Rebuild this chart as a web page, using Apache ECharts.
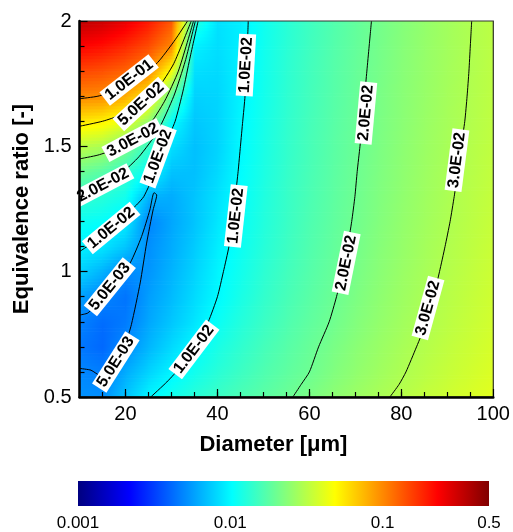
<!DOCTYPE html>
<html>
<head>
<meta charset="utf-8">
<script src="https://cdn.jsdelivr.net/npm/echarts@6/dist/echarts.min.js"></script>
<style>
html, body { margin: 0; padding: 0; background: #fff; }
#main { width: 513px; height: 532px; }
</style>
</head>
<body>
<div id="main"></div>
<script>
// grid nodes of the field (diameter in um, equivalence ratio)
var diameters = [10, 15, 20, 25, 30, 35, 40, 45, 50, 55, 60, 65, 70, 75, 80, 85, 90, 95, 100];
var ratios = [0.5, 0.6, 0.7, 0.8, 0.9, 1.0, 1.1, 1.2, 1.3, 1.4, 1.5, 1.6, 1.7, 1.8, 1.9, 2.0];
// values, one row per ratio (0.5 first)
var valueGrid = [
    [0.0053, 0.0052, 0.0072, 0.0098, 0.0115, 0.0131, 0.0147, 0.0163, 0.0179, 0.0196, 0.0217, 0.0241, 0.0265, 0.0288, 0.0312, 0.0336, 0.036, 0.0384, 0.041],
    [0.005, 0.0047, 0.0062, 0.0079, 0.0097, 0.0114, 0.0131, 0.0148, 0.0166, 0.0183, 0.02, 0.0224, 0.0248, 0.0271, 0.0295, 0.0319, 0.0343, 0.0367, 0.0393],
    [0.0045, 0.0041, 0.0051, 0.0066, 0.0082, 0.01, 0.0119, 0.0137, 0.0156, 0.0174, 0.0193, 0.0214, 0.0238, 0.0261, 0.0285, 0.0308, 0.0332, 0.0355, 0.0381],
    [0.0048, 0.0042, 0.0046, 0.006, 0.0073, 0.0088, 0.0108, 0.0127, 0.0146, 0.0165, 0.0184, 0.0203, 0.0227, 0.0251, 0.0274, 0.0298, 0.0321, 0.0345, 0.0371],
    [0.0058, 0.0049, 0.0044, 0.0057, 0.0068, 0.0083, 0.01, 0.0119, 0.0139, 0.0158, 0.0177, 0.0197, 0.0219, 0.0243, 0.0267, 0.0291, 0.0314, 0.0338, 0.0364],
    [0.0078, 0.0064, 0.005, 0.0054, 0.0065, 0.0079, 0.0097, 0.0114, 0.0134, 0.0153, 0.0172, 0.0192, 0.0213, 0.0237, 0.0261, 0.0284, 0.0308, 0.0332, 0.0358],
    [0.0095, 0.0088, 0.0072, 0.0052, 0.0062, 0.0075, 0.0093, 0.011, 0.0129, 0.0148, 0.0168, 0.0187, 0.0208, 0.0232, 0.0255, 0.0279, 0.0302, 0.0326, 0.0352],
    [0.011, 0.0105, 0.0092, 0.0049, 0.006, 0.0072, 0.0089, 0.0107, 0.0126, 0.0145, 0.0165, 0.0184, 0.0204, 0.0227, 0.0251, 0.0274, 0.0297, 0.0321, 0.0346],
    [0.014, 0.013, 0.0115, 0.0065, 0.0062, 0.0072, 0.0086, 0.0104, 0.0124, 0.0143, 0.0162, 0.0181, 0.0201, 0.0224, 0.0247, 0.027, 0.0293, 0.0316, 0.0341],
    [0.02, 0.0175, 0.014, 0.0105, 0.0071, 0.007, 0.0082, 0.0102, 0.0121, 0.0141, 0.016, 0.0179, 0.0199, 0.0221, 0.0244, 0.0267, 0.029, 0.0312, 0.0337],
    [0.032, 0.029, 0.022, 0.014, 0.0085, 0.007, 0.0079, 0.01, 0.0119, 0.0139, 0.0158, 0.0177, 0.0196, 0.0218, 0.0241, 0.0264, 0.0286, 0.0309, 0.0333],
    [0.056, 0.052, 0.042, 0.025, 0.0105, 0.0073, 0.0079, 0.0098, 0.0117, 0.0137, 0.0156, 0.0175, 0.0194, 0.0216, 0.0238, 0.0261, 0.0283, 0.0305, 0.033],
    [0.1, 0.097, 0.08, 0.055, 0.018, 0.0078, 0.008, 0.0096, 0.0115, 0.0135, 0.0154, 0.0173, 0.0192, 0.0214, 0.0236, 0.0258, 0.0281, 0.0303, 0.0327],
    [0.15, 0.14, 0.125, 0.1, 0.045, 0.0085, 0.0082, 0.0095, 0.0114, 0.0134, 0.0153, 0.0172, 0.0191, 0.0211, 0.0234, 0.0256, 0.0279, 0.0301, 0.0325],
    [0.23, 0.21, 0.18, 0.145, 0.1, 0.0095, 0.0084, 0.0094, 0.0113, 0.0132, 0.0151, 0.017, 0.0189, 0.0209, 0.0232, 0.0255, 0.0277, 0.03, 0.0324],
    [0.34, 0.31, 0.26, 0.2, 0.135, 0.013, 0.0086, 0.0094, 0.0112, 0.0131, 0.015, 0.0168, 0.0187, 0.0207, 0.023, 0.0253, 0.0276, 0.0299, 0.0323]
];

// contour lines [diameter, ratio]
var line1e1 = [[10, 1.69], [14, 1.70], [18, 1.725], [20.8, 1.765], [25, 1.80], [27.5, 1.845], [30.8, 1.925], [33.5, 2.0]];
var line5e2 = [[10, 1.58], [15, 1.6], [19, 1.625], [23.4, 1.669], [27, 1.73], [30.5, 1.83], [34.3, 2.0]];
var line3e2 = [[10, 1.45], [14, 1.465], [18, 1.49], [21.6, 1.525], [25, 1.58], [28.5, 1.68], [31.5, 1.8], [34.8, 2.0]];
var line2e2L = [[10, 1.3], [12.5, 1.32], [15.1, 1.345], [19, 1.39], [23, 1.46], [27, 1.56], [30.5, 1.7], [33, 1.84], [35.2, 2.0]];
var line1e2L = [[10, 1.08], [14, 1.13], [16.9, 1.174], [20, 1.225], [22.4, 1.266], [24, 1.3], [26.5, 1.4], [28.5, 1.5], [30.8, 1.6], [32.5, 1.72], [34, 1.85], [35.8, 2.0]];
var line5e3 = [[10, 0.614], [12.5, 0.607], [14.6, 0.585], [16.1, 0.585], [18, 0.64], [19.8, 0.7], [21.3, 0.79], [23.2, 0.955], [24.6, 1.114], [26, 1.246], [26.8, 1.306], [26.2, 1.315], [25.3, 1.246], [23.5, 1.14], [21, 1.034], [18.8, 0.99], [16.6, 0.94], [14.2, 0.88], [11.8, 0.835], [10, 0.827]];
var line1e2R = [[25.5, 0.5], [29, 0.56], [32, 0.62], [34.9, 0.69], [38, 0.8], [40, 0.9], [41.3, 1.0], [42.5, 1.1], [43.3, 1.2], [43.9, 1.3], [44.5, 1.4], [45, 1.5], [45.5, 1.6], [46, 1.7], [46.2, 1.8], [46.5, 1.9], [46.7, 2.0]];
var line2e2R = [[56.4, 0.5], [58.2, 0.55], [60, 0.6], [62, 0.7], [64.3, 0.8], [65.9, 0.9], [67.2, 1.0], [68.3, 1.1], [69.2, 1.2], [69.9, 1.3], [70.4, 1.4], [71, 1.5], [71.5, 1.6], [72, 1.7], [72.5, 1.8], [73, 1.9], [73.5, 2.0]];
var line3e2R = [[77.5, 0.5], [79.5, 0.55], [81, 0.6], [83.3, 0.7], [85.5, 0.8], [87, 0.9], [88.3, 1.0], [89.5, 1.1], [90.6, 1.2], [91.5, 1.3], [92.3, 1.4], [93, 1.5], [93.8, 1.6], [94.3, 1.7], [94.7, 1.8], [95, 1.9], [95.3, 2.0]];
var contourLines = [line1e1, line5e2, line3e2, line2e2L, line1e2L, line5e3, line1e2R, line2e2R, line3e2R];

// contour labels: position, text, index of the line they sit on
var labelPos = [[20.8, 1.765], [23.4, 1.669], [21.6, 1.525], [15.1, 1.345], [27.1, 1.46], [16.9, 1.174], [16.6, 0.94], [17.9, 0.64], [46.2, 1.824], [44.0, 1.222], [34.9, 0.69], [72.3, 1.633], [68, 1.035], [92.1, 1.445], [85.8, 0.855]];
var labelText = ['1.0E-01', '5.0E-02', '3.0E-02', '2.0E-02', '1.0E-02', '1.0E-02', '5.0E-03', '5.0E-03', '1.0E-02', '1.0E-02', '1.0E-02', '2.0E-02', '2.0E-02', '3.0E-02', '3.0E-02'];
var labelLine = [0, 1, 2, 3, 4, 4, 5, 5, 6, 6, 6, 7, 7, 8, 8];

// axis ticks
var xMajor = [20, 40, 60, 80, 100];
var xMinor = [15, 20, 25, 30, 35, 40, 45, 50, 55, 60, 65, 70, 75, 80, 85, 90, 95];
var yMajor = [0.5, 1, 1.5, 2];
var yMinor = [0.6, 0.7, 0.8, 0.9, 1.1, 1.2, 1.3, 1.4, 1.6, 1.7, 1.8, 1.9];
var barTicks = [0.001, 0.01, 0.1, 0.5];
var barMin = 0.001, barMax = 0.5;

var FONT = '"Liberation Sans", Arial, Helvetica, sans-serif';
var logMin = Math.log10(barMin), logMax = Math.log10(barMax);

function jet(t) {
    t = Math.max(0, Math.min(1, t));
    function c(v) { return Math.round(255 * Math.max(0, Math.min(1, v))); }
    var r = 1.5 - Math.abs(4 * t - 3), g = 1.5 - Math.abs(4 * t - 2), b = 1.5 - Math.abs(4 * t - 1);
    return 'rgb(' + c(r) + ',' + c(g) + ',' + c(b) + ')';
}
function colorOfLog(lv) { return jet((lv - logMin) / (logMax - logMin)); }

var cells = [];
for (var j = 0; j < ratios.length - 1; j++) {
    for (var i = 0; i < diameters.length - 1; i++) cells.push([i, j]);
}

function renderCell(params, api) {
    var i = api.value(0), j = api.value(1);
    var p0 = api.coord([diameters[i], ratios[j]]);
    var p1 = api.coord([diameters[i + 1], ratios[j + 1]]);
    var l00 = Math.log10(valueGrid[j][i]), l10 = Math.log10(valueGrid[j][i + 1]);
    var l01 = Math.log10(valueGrid[j + 1][i]), l11 = Math.log10(valueGrid[j + 1][i + 1]);
    var n = 8, h = (p0[1] - p1[1]) / n, w = p1[0] - p0[0];
    var kids = [];
    for (var k = 0; k < n; k++) {
        var s = (k + 0.5) / n;
        var a = l00 + (l01 - l00) * s, b = l10 + (l11 - l10) * s;
        var stops = [];
        for (var m = 0; m <= 4; m++) stops.push({ offset: m / 4, color: colorOfLog(a + (b - a) * m / 4) });
        kids.push({
            type: 'rect',
            silent: true,
            shape: { x: p0[0], y: p0[1] - (k + 1) * h, width: w + 0.7, height: h + 0.7 },
            style: { fill: { type: 'linear', x: 0, y: 0, x2: 1, y2: 0, colorStops: stops } }
        });
    }
    return { type: 'group', children: kids };
}

function renderLabel(params, api) {
    var idx = params.dataIndex;
    var pt = api.coord(labelPos[idx]);
    var line = contourLines[labelLine[idx]];
    var best = 1e9, ang = 0;
    for (var q = 0; q < line.length - 1; q++) {
        var a = api.coord(line[q]), b = api.coord(line[q + 1]);
        var mx = (a[0] + b[0]) / 2, my = (a[1] + b[1]) / 2;
        var d = (mx - pt[0]) * (mx - pt[0]) + (my - pt[1]) * (my - pt[1]);
        if (d < best) { best = d; ang = Math.atan2(-(b[1] - a[1]), b[0] - a[0]); }
    }
    if (ang > Math.PI / 2 + 1e-6) ang -= Math.PI;
    if (ang <= -Math.PI / 2 + 1e-6) ang += Math.PI;
    return {
        type: 'text',
        x: pt[0], y: pt[1],
        rotation: ang,
        style: {
            text: labelText[idx],
            font: 'bold 16px ' + FONT,
            fill: '#000',
            align: 'center',
            verticalAlign: 'middle',
            backgroundColor: '#fff',
            padding: [1, 3, 0, 3]
        }
    };
}

function renderBar(params, api) {
    var p0 = api.coord([barMin, 0]), p1 = api.coord([barMax, 1]);
    var stops = [];
    for (var k = 0; k <= 40; k++) stops.push({ offset: k / 40, color: jet(k / 40) });
    return {
        type: 'rect',
        shape: { x: p0[0], y: p1[1], width: p1[0] - p0[0], height: p0[1] - p1[1] },
        style: { fill: { type: 'linear', x: 0, y: 0, x2: 1, y2: 0, colorStops: stops } }
    };
}

var chart = echarts.init(document.getElementById('main'), null, { renderer: 'canvas' });

var series = [{
    type: 'custom',
    xAxisIndex: 0, yAxisIndex: 0,
    renderItem: renderCell,
    data: cells,
    clip: true,
    silent: true,
    z: 1
}];
contourLines.forEach(function (pts) {
    series.push({
        type: 'line',
        xAxisIndex: 0, yAxisIndex: 0,
        data: pts,
        showSymbol: false,
        smooth: 0.2,
        silent: true,
        clip: true,
        lineStyle: { color: '#000', width: 1 },
        z: 3
    });
});
series.push({
    type: 'custom',
    xAxisIndex: 0, yAxisIndex: 0,
    renderItem: renderLabel,
    data: labelPos,
    silent: true,
    z: 4
});
series.push({
    type: 'custom',
    xAxisIndex: 2, yAxisIndex: 2,
    renderItem: renderBar,
    data: [[barMin, 0]],
    silent: true
});

var option = {
    animation: false,
    backgroundColor: '#fff',
    grid: [
        { left: 79.5, right: 19.7, top: 21, bottom: 135, show: true, borderColor: '#333', borderWidth: 1.2, backgroundColor: 'transparent', z: 5 },
        { left: 78, right: 24, top: 481, height: 25 }
    ],
    xAxis: [{
        gridIndex: 0, type: 'value', min: 10, max: 100,
        name: 'Diameter [μm]', nameLocation: 'middle', nameGap: 37,
        nameTextStyle: { fontSize: 22, fontWeight: 'bold', color: '#000', fontFamily: FONT, padding: [0, 26, 0, 0] },
        axisLine: { show: true, onZero: false, lineStyle: { color: '#000', width: 2.5 } },
        axisTick: { show: true, inside: true, length: 8, customValues: xMajor, lineStyle: { color: '#000', width: 1.2 } },
        axisLabel: { customValues: xMajor, fontSize: 20, color: '#000', fontFamily: FONT, margin: 7 },
        splitLine: { show: false },
        z: 6
    }, {
        gridIndex: 0, type: 'value', min: 10, max: 100, position: 'bottom',
        axisLine: { show: false },
        axisTick: { show: true, inside: true, length: 5, customValues: xMinor, lineStyle: { color: '#000', width: 1.2 } },
        axisLabel: { show: false },
        splitLine: { show: false },
        z: 6
    }, {
        gridIndex: 1, type: 'log', logBase: 10, min: barMin, max: barMax,
        axisLine: { show: false }, axisTick: { show: false },
        axisLabel: {
            customValues: barTicks, fontSize: 17, color: '#000', fontFamily: FONT, margin: 9,
            formatter: function (v) { return String(+Number(v).toPrecision(3)); }
        },
        splitLine: { show: false }
    }],
    yAxis: [{
        gridIndex: 0, type: 'value', min: 0.5, max: 2,
        name: 'Equivalence ratio [-]', nameLocation: 'middle', nameGap: 42,
        nameTextStyle: { fontSize: 22, fontWeight: 'bold', color: '#000', fontFamily: FONT },
        axisLine: { show: true, onZero: false, lineStyle: { color: '#000', width: 2.5 } },
        axisTick: { show: true, inside: true, length: 8, customValues: yMajor, lineStyle: { color: '#000', width: 1.2 } },
        axisLabel: { customValues: yMajor, fontSize: 20, color: '#000', fontFamily: FONT, margin: 8,
            formatter: function (v) { return String(+Number(v).toPrecision(3)); } },
        splitLine: { show: false },
        z: 6
    }, {
        gridIndex: 0, type: 'value', min: 0.5, max: 2, position: 'left',
        axisLine: { show: false },
        axisTick: { show: true, inside: true, length: 5, customValues: yMinor, lineStyle: { color: '#000', width: 1.2 } },
        axisLabel: { show: false },
        splitLine: { show: false },
        z: 6
    }, {
        gridIndex: 1, type: 'value', min: 0, max: 1, show: false
    }],
    series: series
};

chart.setOption(option);
</script>
</body>
</html>
